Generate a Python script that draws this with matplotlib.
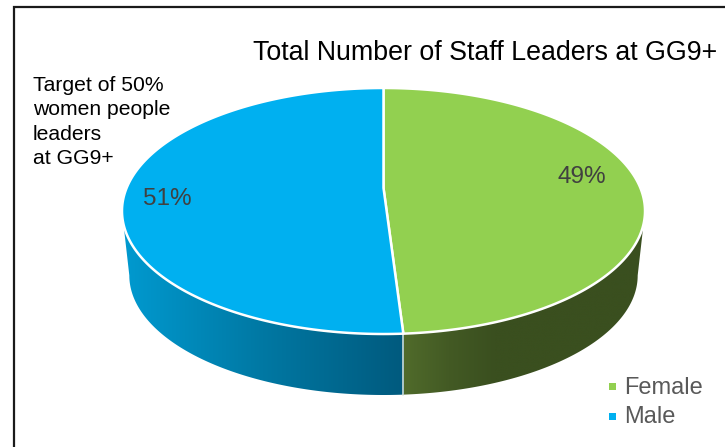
import numpy as np
import matplotlib
matplotlib.use("Agg")
import matplotlib.pyplot as plt
from matplotlib.colors import LinearSegmentedColormap
from matplotlib.patches import Polygon, Rectangle

labels = ["Female", "Male"]
shares = [49, 51]
title = "Total Number of Staff Leaders at GG9+"
note = "Target of 50%\nwomen people\nleaders\nat GG9+"

top_colors = ["#92D050", "#00B0F0"]
wall_colors = [
    ["#506B2B", "#435A24", "#3A4F1F"],
    ["#005A7E", "#0078A3", "#009AD0"],
]

W, H = 725, 447
CX = 383.5
TILT = 46 / 246       # perspective of the pie disc
HUB_Y = 188.0
Y_SLOPE = -83.55
X_SCALE = 256.9
DEPTH_SCALE = 0.972
BOTTOM_Y = 395.0


def project(theta):
    """theta runs clockwise from 12 o'clock, returns pixel x, y on the top face"""
    u, v = np.sin(theta), np.cos(theta)
    w = 1 + TILT * v
    return CX + X_SCALE * u / w, (HUB_Y + Y_SLOPE * v) / w


def wedge(start, stop):
    t = np.linspace(start, stop, 200)
    x, y = project(t)
    return np.column_stack([np.r_[CX, x], np.r_[HUB_Y, y]])


plt.rcParams["font.family"] = ["Liberation Sans", "DejaVu Sans"]

fig = plt.figure(figsize=(W / 100, H / 100), dpi=100)
ax = fig.add_axes([0, 0, 1, 1])
ax.axis("off")

# chart frame
ax.plot([14.5, 14.5, W + 2], [H + 2, 6.5, 6.5], color="#1a1a1a", lw=1.6,
        solid_joinstyle="miter")

edges = np.cumsum([0] + shares) / sum(shares) * 2 * np.pi

# outline of the disc, used to build the side wall
t = np.linspace(0, 2 * np.pi, 721)
ex, ey = project(t)
half_a = (ex.max() - ex.min()) / 2
half_b = (ey.max() - ey.min()) / 2
mid_y = (ey.max() + ey.min()) / 2

s = np.linspace(0, np.pi, 361)
top_x = CX + half_a * np.cos(s)
top_y = mid_y + half_b * np.sin(s)
low_x = CX + DEPTH_SCALE * half_a * np.cos(s)
low_y = BOTTOM_Y - DEPTH_SCALE * half_b + DEPTH_SCALE * half_b * np.sin(s)
wall = np.column_stack([np.r_[top_x, low_x[::-1]], np.r_[top_y, low_y[::-1]]])

split_x, split_y = project(edges[1])

# side wall, shaded left to right for each slice
spans = [(split_x, top_x.max(), 495), (top_x.min(), split_x, None)]
for i, (x0, x1, flat_at) in enumerate(spans):
    cmap = LinearSegmentedColormap.from_list("wall", wall_colors[i])
    if i == 0:
        ramp = np.clip((np.linspace(x0, x1, 256) - x0) / (flat_at - x0), 0, 1)
    else:
        ramp = np.linspace(1, 0, 256)
    im = ax.imshow(ramp[None, :], extent=(x0, x1, BOTTOM_Y + 2, 180), cmap=cmap,
                   vmin=0, vmax=1, aspect="auto", zorder=2, interpolation="bilinear")
    im.set_clip_path(Polygon(wall, closed=True, transform=ax.transData))
ax.set_xlim(0, W)
ax.set_ylim(H, 0)

ax.plot([split_x, split_x], [split_y, BOTTOM_Y - 0.4], color="#dfe6dc", lw=1.1, zorder=3)

# top face
for i in range(len(shares)):
    ax.add_patch(Polygon(wedge(edges[i], edges[i + 1]), closed=True,
                         facecolor=top_colors[i], edgecolor="white", lw=1.8,
                         joinstyle="round", zorder=4))

# percentage labels
ax.text(582, 177, f"{shares[0]}%", fontsize=17.5, color="#404040",
        ha="center", va="center", zorder=5)
ax.text(167, 199, f"{shares[1]}%", fontsize=17.5, color="#404040",
        ha="center", va="center", zorder=5)

ax.text(485, 52.5, title, fontsize=19.3, color="black", ha="center", va="center")
ax.text(33, 122, note, fontsize=15.2, color="black", ha="left", va="center",
        linespacing=1.36)

# legend
for i, name in enumerate(labels):
    y = 386.5 + 29.5 * i
    ax.add_patch(Rectangle((609, y - 3.5), 7, 7, facecolor=top_colors[i], edgecolor="none"))
    ax.text(624, y + 1, name, fontsize=17, color="#595959", ha="left", va="center")

fig.savefig("out.png", dpi=100)
